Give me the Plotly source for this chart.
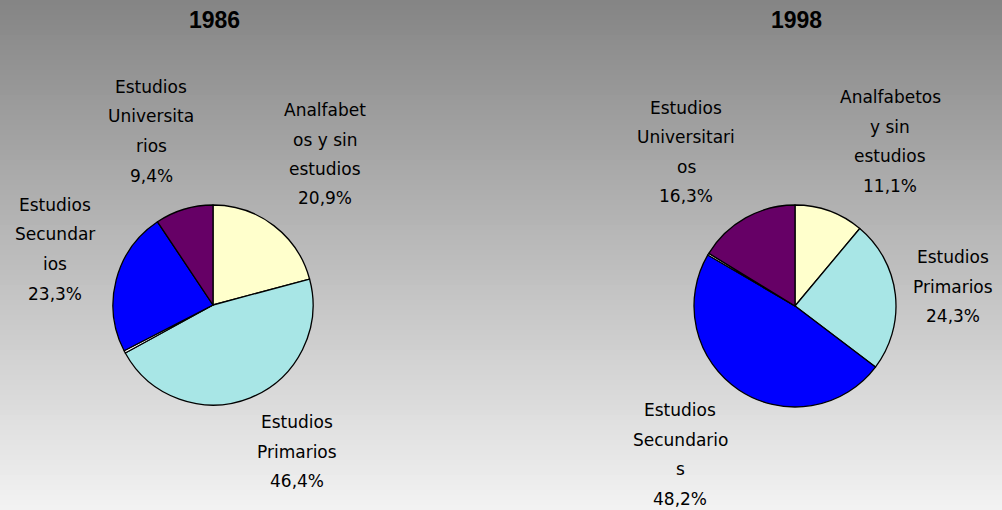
import plotly.graph_objects as go

# --- data ---
years = ["1986", "1998"]

labels_1986 = ["Analfabetos y sin estudios", "Estudios Primarios", "",
               "Estudios Secundarios", "Estudios Universitarios"]
values_1986 = [20.9, 46.4, 0.4, 23.3, 9.4]
shown_1986 = ["Analfabet<br>os y sin<br>estudios", "Estudios<br>Primarios", "",
              "Estudios<br>Secundar<br>ios", "Estudios<br>Universita<br>rios"]

labels_1998 = ["Analfabetos y sin estudios", "Estudios Primarios",
               "Estudios Secundarios", "", "Estudios Universitarios"]
values_1998 = [11.1, 24.3, 48.2, 0.3, 16.3]
shown_1998 = ["Analfabetos<br>y sin<br>estudios", "Estudios<br>Primarios",
              "Estudios<br>Secundario<br>s", "", "Estudios<br>Universitari<br>os"]

colors = {
    "Analfabetos y sin estudios": "#FFFFCC",
    "Estudios Primarios": "#A8E6E6",
    "Estudios Secundarios": "#0000FF",
    "Estudios Universitarios": "#660066",
    "": "#FFFFFF",
}

# --- layout helpers (pixels in a 1002x510 page) ---
W, H = 1002, 510
FONT = "DejaVu Sans, Arial, sans-serif"
LINE = 29.5


def px(x):
    return x / W


def py(y):
    return 1 - y / H


# pie centre and radius per year
pies = {"1986": (213, 305, 100), "1998": (795, 306, 101)}
# first-line position of each label block, same order as the slices
label_pos = {
    "1986": [(325, 110), (297, 422), None, (55, 205), (151, 87)],
    "1998": [(890, 97), (953, 257), (680, 410), None, (686, 108)],
}

series = {
    "1986": (labels_1986, values_1986, shown_1986),
    "1998": (labels_1998, values_1998, shown_1998),
}

fig = go.Figure()
annotations = []

for yr in years:
    labels, values, shown = series[yr]
    cx, cy, r = pies[yr]
    fig.add_trace(go.Pie(
        labels=labels,
        values=values,
        sort=False,
        direction="clockwise",
        rotation=0,
        textinfo="none",
        hoverinfo="label+value",
        marker=dict(colors=[colors[l] for l in labels],
                    line=dict(color="black", width=1.3)),
        domain=dict(x=[px(cx - r), px(cx + r)], y=[py(cy + r), py(cy - r)]),
        showlegend=False,
    ))
    annotations.append(dict(
        text="<b>%s</b>" % yr, x=px(cx + 1), y=py(20), xref="paper", yref="paper",
        showarrow=False, xanchor="center", yanchor="middle",
        font=dict(family="Liberation Sans Narrow, Liberation Sans, Arial", size=23, color="black"),
    ))
    for name, v, txt, pos in zip(labels, values, shown, label_pos[yr]):
        if pos is None:
            continue
        lines = txt.split("<br>") + [f"{v:.1f}".replace(".", ",") + "%"]
        lx, ly = pos
        for i, ln in enumerate(lines):
            annotations.append(dict(
                text=ln, x=px(lx), y=py(ly + i * LINE), xref="paper", yref="paper",
                showarrow=False, xanchor="center", yanchor="middle",
                font=dict(family=FONT, size=17, color="black"),
            ))

# grey-to-white vertical gradient behind everything
shapes = []
steps = 102
top, bottom = 133, 242
for i in range(steps):
    g = round(top + (bottom - top) * i / (steps - 1))
    shapes.append(dict(
        type="rect", xref="paper", yref="paper", layer="below",
        x0=0, x1=1, y0=1 - (i + 1) / steps, y1=1 - i / steps,
        fillcolor="rgb(%d,%d,%d)" % (g, g, g), line=dict(width=0),
    ))

fig.update_layout(
    width=W, height=H,
    margin=dict(l=0, r=0, t=0, b=0),
    paper_bgcolor="#c0c0c0",
    plot_bgcolor="rgba(0,0,0,0)",
    shapes=shapes,
    annotations=annotations,
    font=dict(family=FONT),
)

fig.write_html("out.html", config={"displayModeBar": False},
               post_script="document.body.style.margin='0';")
